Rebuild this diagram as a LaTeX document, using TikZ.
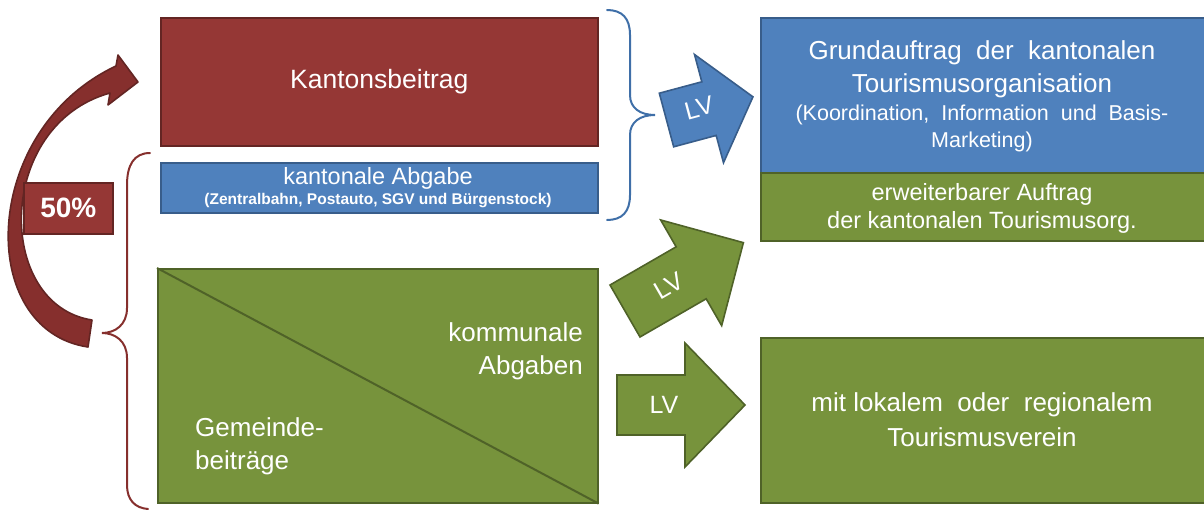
\documentclass[tikz,border=0pt]{standalone}
\usepackage{fontspec}
\setmainfont{Liberation Sans}
\definecolor{redF}{HTML}{953735}
\definecolor{redA}{HTML}{862F2D}
\definecolor{redD}{HTML}{632523}
\definecolor{blueF}{HTML}{4F81BD}
\definecolor{blueD}{HTML}{385D8A}
\definecolor{braceB}{HTML}{3F6FA8}
\definecolor{greenF}{HTML}{77933C}
\definecolor{greenD}{HTML}{4F6228}
\newcommand\fsz[2]{\fontsize{#1}{#2}\selectfont}
\tikzset{
  box/.style={draw, line width=1.6pt, anchor=north west, inner sep=0pt},
  redbox/.style={box, fill=redF, draw=redD},
  bluebox/.style={box, fill=blueF, draw=blueD},
  greenbox/.style={box, fill=greenF, draw=greenD},
  wtext/.style={text=white, inner sep=0pt, align=center},
  blockarrow/.style={line width=1.6pt, line join=miter},
  brace/.style={line width=2pt, line cap=round},
}
\begin{document}
\begin{tikzpicture}[x={(1pt,0)}, y={(0,-1pt)}]
\useasboundingbox (0,0) rectangle (1204,509);

% left boxes
\node[redbox, minimum width=437pt, minimum height=128pt] (kb) at (160,17) {};
\node[wtext, font=\fsz{26.5}{31}] (kbt) at (kb.center) {Kantonsbeitrag};

\node[bluebox, minimum width=437pt, minimum height=50pt] (ka) at (160,162) {};
\node[wtext, font=\fsz{23.5}{26}] (kat1) at (378,178) {kantonale Abgabe};
\node[wtext, font=\fsz{15.5}{17}\bfseries] (kat2) at (378,201) {(Zentralbahn, Postauto, SGV und Bürgenstock)};

\node[greenbox, minimum width=440pt, minimum height=234pt] (gb) at (157,268) {};
\draw[line width=2pt, draw=greenD] (gb.north west) -- (gb.south east);
\node[wtext, font=\fsz{26}{33}, anchor=east, align=right] (kom) at (583,351) {kommunale\\Abgaben};
\node[wtext, font=\fsz{26}{33}, anchor=west, align=left] (gem) at (195,446) {Gemeinde-\\beiträge};

% right boxes
\node[bluebox, minimum width=460pt, minimum height=155pt] (gr) at (760,17) {};
\node[wtext, font=\fsz{26}{33}] (grt1) at (982,53) {Grundauftrag\ \ der\ \ kantonalen};
\node[wtext, font=\fsz{26}{33}] (grt2) at (982,86) {Tourismusorganisation};
\node[wtext, font=\fsz{21.5}{26}] (grt3) at (982,115) {(Koordination,\ \ Information\ \ und\ \ Basis-};
\node[wtext, font=\fsz{21.5}{26}] (grt4) at (982,142) {Marketing)};

\node[greenbox, minimum width=460pt, minimum height=68pt] (er) at (760,172) {};
\node[wtext, font=\fsz{23.5}{28}] (ert1) at (982,194) {erweiterbarer Auftrag};
\node[wtext, font=\fsz{23.5}{28}] (ert2) at (982,222) {der kantonalen Tourismusorg.};

\node[greenbox, minimum width=460pt, minimum height=165pt] (tv) at (760,337) {};
\node[wtext, font=\fsz{26}{33}] (tvt1) at (982,405) {mit lokalem\ \ oder\ \ regionalem};
\node[wtext, font=\fsz{26}{33}] (tvt2) at (982,437) {Tourismusverein};

% braces
\draw[brace, draw=braceB] (607,10) .. controls (622,10) and (630,18) .. (630,35)
  -- (630,95) .. controls (630,108) and (640,115) .. (655,115)
  .. controls (640,115) and (630,122) .. (630,135)
  -- (630,195) .. controls (630,212) and (622,220) .. (607,220);
\draw[brace, draw=redA] (150,153) .. controls (134,153) and (127,165) .. (127,185)
  -- (127,308) .. controls (127,325) and (115,333) .. (102,333)
  .. controls (115,333) and (127,341) .. (127,358)
  -- (127,485) .. controls (127,500) and (135,508) .. (148,509);

% block arrows
\draw[blockarrow, fill=blueF, draw=blueD, shift={(666.5,120)}, rotate=15]
  (0,-27.75) -- (44,-27.75) -- (44,-56) -- (89.5,0) -- (44,56) -- (44,27.75) -- (0,27.75) -- cycle;
\node[wtext, font=\fsz{25}{28}, rotate=15] (lv1) at (699,108) {LV};

\draw[blockarrow, fill=greenF, draw=greenD, shift={(625,311)}, rotate=30]
  (0,-30) -- (76.4,-30) -- (76.4,-61) -- (136.7,0) -- (76.4,61) -- (76.4,30) -- (0,30) -- cycle;
\node[wtext, font=\fsz{25}{28}, rotate=30] (lv2) at (669,286) {LV};

\draw[blockarrow, fill=greenF, draw=greenD, shift={(617,405)}]
  (0,-30) -- (68,-30) -- (68,-62) -- (128,0) -- (68,62) -- (68,30) -- (0,30) -- cycle;
\node[wtext, font=\fsz{25}{28}] (lv3) at (664,405) {LV};

% curved arrow
\draw[blockarrow, fill=redA, draw=redD, line join=round]
  (88,347) .. controls (-25,330) and (-20,130) .. (116,66)
  -- (118,55) -- (138,82) -- (108,105) -- (110,93)
  .. controls (-5,125) and (-5,305) .. (92,320) -- cycle;

\node[redbox, minimum width=89pt, minimum height=51pt] (pc) at (23,182) {};
\node[wtext, font=\fsz{28}{32}\bfseries] (pct) at (pc.center) {50\%};
\end{tikzpicture}
\end{document}
